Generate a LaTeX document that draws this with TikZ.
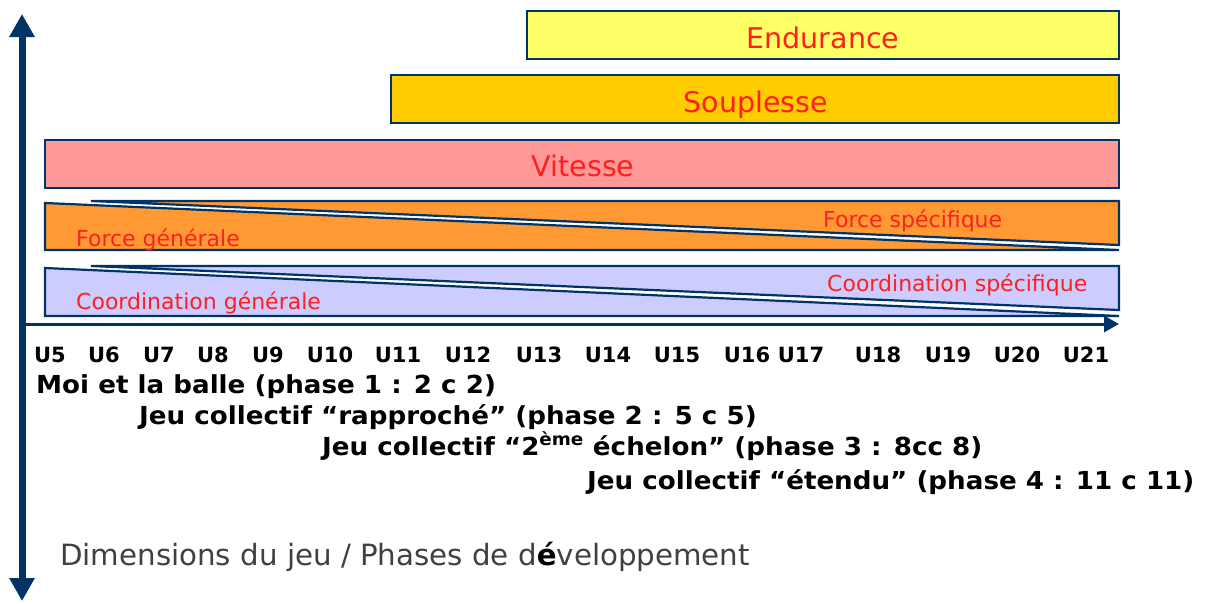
\documentclass[tikz,border=0pt]{standalone}
\usepackage{fontspec}
\setmainfont{DejaVu Sans}
\newfontfamily\widefont{DejaVu Sans}[FakeStretch=1.055]
\usepackage{tikz}
\usetikzlibrary{arrows.meta}

\definecolor{navy}{HTML}{003366}
\definecolor{labred}{HTML}{FF1F1F}
\definecolor{cEnd}{HTML}{FFFF66}
\definecolor{cSoup}{HTML}{FFCC00}
\definecolor{cVit}{HTML}{FF9999}
\definecolor{cForce}{HTML}{FF9933}
\definecolor{cCoord}{HTML}{CCCCFF}

\begin{document}
\begin{tikzpicture}[x=1pt,y=-1pt,
		bar/.style={draw=navy,line width=2pt,rectangle,inner sep=0pt,minimum height=48pt},
		wedge/.style={draw=navy,line width=2.2pt,line join=miter},
		big/.style={text=labred,font=\fontsize{28.5}{30}\selectfont,anchor=base,inner sep=0pt},
		small/.style={text=labred,font=\fontsize{22}{24}\selectfont,anchor=base west,inner sep=0pt},
		age/.style={font=\fontsize{21}{22}\selectfont\bfseries,anchor=base,inner sep=0pt},
		phase/.style={font=\widefont\fontsize{24.8}{26}\selectfont\bfseries,anchor=base west,inner sep=0pt},
		tip/.tip={Triangle[width=24pt,length=23pt]}]

		\useasboundingbox (0,0) rectangle (1214,603);

		% capacites
		\node[bar,fill=cEnd,minimum width=592pt] (endurance) at (823,35) {};
		\node[bar,fill=cSoup,minimum width=728pt] (souplesse) at (755,99) {};
		\node[bar,fill=cVit,minimum width=1074pt] (vitesse) at (582,164) {};
		\node[big] (endtxt) at (823,48) {Endurance};
		\node[big] (souptxt) at (756,112) {Souplesse};
		\node[big] (vittxt) at (583,176) {Vitesse};

		\filldraw[wedge,fill=cForce] (45,203) -- (1119,250) -- (45,250) -- cycle;
		\filldraw[wedge,fill=cForce] (91,201) -- (1119,201) -- (1119,245) -- cycle;
		\filldraw[wedge,fill=cCoord] (45,268) -- (1119,316) -- (45,316) -- cycle;
		\filldraw[wedge,fill=cCoord] (91,266) -- (1119,266) -- (1119,310) -- cycle;
		\node[small] (forcegen) at (76,246) {Force générale};
		\node[small] (forcespe) at (823,227) {Force spécifique};
		\node[small] (coordgen) at (76,309) {Coordination générale};
		\node[small] (coordspe) at (827,291) {Coordination spécifique};

		% axes
		\coordinate (ytop) at (22,14);
		\coordinate (ybot) at (22,601);
		\coordinate (xstart) at (22,324);
		\coordinate (xend) at (1119,324);
		\draw[navy,line width=7pt,tip-tip] (ybot) -- (ytop);
		\draw[navy,line width=3pt,-{Triangle[width=16pt,length=15pt]}] (xstart) -- (xend);

		\foreach \x/\u in {50/5,104/6,159/7,213/8,268/9,330/10,398/11,468/12,539/13,
				608/14,677/15,747/16,801/17,878/18,948/19,1017/20,1086/21}
			\node[age] (u\u) at (\x,362) {U\u};

		\node[phase] (phase1) at (36,393) {Moi et la balle (phase 1 : 2 c 2)};
		\node[phase] (phase2) at (139,424) {Jeu collectif “rapproché” (phase 2 : 5 c 5)};
		\node[phase] (phase3) at (322,455) {Jeu collectif “2\textsuperscript{ème} échelon” (phase 3 : 8cc 8)};
		\node[phase] (phase4) at (587,489) {Jeu collectif “étendu” (phase 4 : 11 c 11)};

		\node[anchor=base west,inner sep=0pt,text=black!75,font=\fontsize{29.3}{30}\selectfont]
			(dimensions) at (60,565) {Dimensions du jeu / Phases de d\textcolor{black}{\bfseries é}veloppement};
	\end{tikzpicture}
\end{document}
